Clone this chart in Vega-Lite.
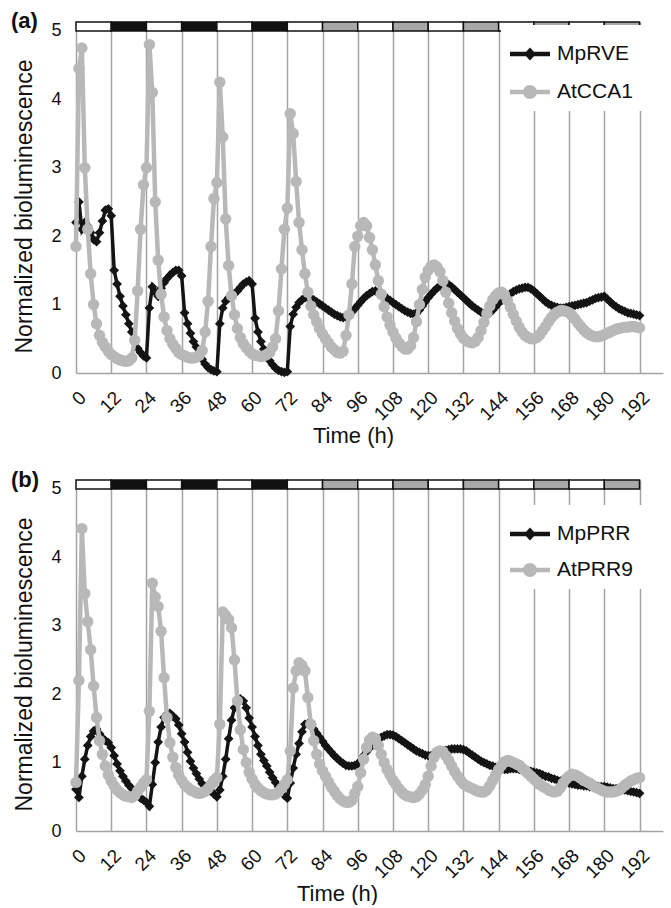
{
"$schema": "https://vega.github.io/schema/vega-lite/v6.json",
"padding": {"left": 11, "top": 10, "right": 3, "bottom": 0},
"spacing": 22,
"config": {
 "font": "Liberation Sans",
 "view": {"stroke": null},
 "axisX": {"grid": true, "gridColor": "#a3a3a3", "gridWidth": 1.5, "ticks": false, "tickSize": 0, "domainColor": "#a3a3a3", "domainWidth": 1.5, "labelAngle": -45, "labelFontSize": 19, "labelColor": "#111111", "labelPadding": 15, "titleFontSize": 22, "titleFontWeight": "normal", "titleColor": "#111111", "titlePadding": 2, "labelOverlap": false, "labelFlush": false},
 "axisY": {"grid": false, "domain": false, "ticks": false, "tickSize": 0, "labelFontSize": 18, "labelColor": "#111111", "labelPadding": 15, "titleFontSize": 23, "titleFontWeight": "normal", "titleColor": "#111111", "titlePadding": 14}
},
"resolve": {"scale": {"x": "independent", "y": "independent", "color": "independent", "fill": "independent"}, "legend": {"color": "independent"}},
"datasets": {
 "bars": [
  {"start":0,"end":12,"phase":"L"},{"start":12,"end":24,"phase":"D"},{"start":24,"end":36,"phase":"L"},{"start":36,"end":48,"phase":"D"},
  {"start":48,"end":60,"phase":"L"},{"start":60,"end":72,"phase":"D"},{"start":72,"end":84,"phase":"L"},{"start":84,"end":96,"phase":"S"},
  {"start":96,"end":108,"phase":"L"},{"start":108,"end":120,"phase":"S"},{"start":120,"end":132,"phase":"L"},{"start":132,"end":144,"phase":"S"},
  {"start":144,"end":156,"phase":"L"},{"start":156,"end":168,"phase":"S"},{"start":168,"end":180,"phase":"L"},{"start":180,"end":192,"phase":"S"}
 ],
 "a": [
{"t":0,"MpRVE":2.2,"AtCCA1":1.85},{"t":1,"MpRVE":2.5,"AtCCA1":4.45},{"t":2,"MpRVE":2.1,"AtCCA1":4.75},{"t":3,"MpRVE":2.2,"AtCCA1":3.0},{"t":4,"MpRVE":2.15,"AtCCA1":2.1},
{"t":5,"MpRVE":2.05,"AtCCA1":1.45},{"t":6,"MpRVE":1.95,"AtCCA1":1.0},{"t":7,"MpRVE":1.92,"AtCCA1":0.72},{"t":8,"MpRVE":2.05,"AtCCA1":0.55},{"t":9,"MpRVE":2.22,"AtCCA1":0.45},
{"t":10,"MpRVE":2.38,"AtCCA1":0.38},{"t":11,"MpRVE":2.4,"AtCCA1":0.32},{"t":12,"MpRVE":2.3,"AtCCA1":0.27},{"t":13,"MpRVE":1.5,"AtCCA1":0.24},{"t":14,"MpRVE":1.3,"AtCCA1":0.21},
{"t":15,"MpRVE":1.12,"AtCCA1":0.19},{"t":16,"MpRVE":0.98,"AtCCA1":0.18},{"t":17,"MpRVE":0.85,"AtCCA1":0.17},{"t":18,"MpRVE":0.72,"AtCCA1":0.18},{"t":19,"MpRVE":0.6,"AtCCA1":0.22},
{"t":20,"MpRVE":0.45,"AtCCA1":0.48},{"t":21,"MpRVE":0.36,"AtCCA1":1.2},{"t":22,"MpRVE":0.3,"AtCCA1":2.1},{"t":23,"MpRVE":0.25,"AtCCA1":2.75},{"t":24,"MpRVE":0.22,"AtCCA1":3.0},
{"t":25,"MpRVE":0.95,"AtCCA1":4.8},{"t":26,"MpRVE":1.26,"AtCCA1":4.1},{"t":27,"MpRVE":1.18,"AtCCA1":2.5},{"t":28,"MpRVE":1.12,"AtCCA1":1.65},{"t":29,"MpRVE":1.24,"AtCCA1":1.15},
{"t":30,"MpRVE":1.32,"AtCCA1":0.82},{"t":31,"MpRVE":1.38,"AtCCA1":0.62},{"t":32,"MpRVE":1.43,"AtCCA1":0.5},{"t":33,"MpRVE":1.47,"AtCCA1":0.42},{"t":34,"MpRVE":1.5,"AtCCA1":0.36},
{"t":35,"MpRVE":1.5,"AtCCA1":0.3},{"t":36,"MpRVE":1.42,"AtCCA1":0.27},{"t":37,"MpRVE":0.88,"AtCCA1":0.25},{"t":38,"MpRVE":0.72,"AtCCA1":0.23},{"t":39,"MpRVE":0.58,"AtCCA1":0.22},
{"t":40,"MpRVE":0.46,"AtCCA1":0.22},{"t":41,"MpRVE":0.38,"AtCCA1":0.23},{"t":42,"MpRVE":0.3,"AtCCA1":0.26},{"t":43,"MpRVE":0.2,"AtCCA1":0.33},{"t":44,"MpRVE":0.13,"AtCCA1":0.6},
{"t":45,"MpRVE":0.08,"AtCCA1":1.05},{"t":46,"MpRVE":0.05,"AtCCA1":1.85},{"t":47,"MpRVE":0.03,"AtCCA1":2.55},{"t":48,"MpRVE":0.02,"AtCCA1":2.78},{"t":49,"MpRVE":0.72,"AtCCA1":4.25},
{"t":50,"MpRVE":0.95,"AtCCA1":3.45},{"t":51,"MpRVE":1.05,"AtCCA1":2.25},{"t":52,"MpRVE":1.1,"AtCCA1":1.57},{"t":53,"MpRVE":1.13,"AtCCA1":1.13},{"t":54,"MpRVE":1.16,"AtCCA1":0.85},
{"t":55,"MpRVE":1.2,"AtCCA1":0.65},{"t":56,"MpRVE":1.25,"AtCCA1":0.52},{"t":57,"MpRVE":1.3,"AtCCA1":0.43},{"t":58,"MpRVE":1.33,"AtCCA1":0.37},{"t":59,"MpRVE":1.35,"AtCCA1":0.32},
{"t":60,"MpRVE":1.3,"AtCCA1":0.28},{"t":61,"MpRVE":0.8,"AtCCA1":0.26},{"t":62,"MpRVE":0.6,"AtCCA1":0.25},{"t":63,"MpRVE":0.46,"AtCCA1":0.24},{"t":64,"MpRVE":0.35,"AtCCA1":0.25},
{"t":65,"MpRVE":0.25,"AtCCA1":0.27},{"t":66,"MpRVE":0.18,"AtCCA1":0.3},{"t":67,"MpRVE":0.12,"AtCCA1":0.38},{"t":68,"MpRVE":0.07,"AtCCA1":0.5},{"t":69,"MpRVE":0.04,"AtCCA1":0.91},
{"t":70,"MpRVE":0.02,"AtCCA1":1.52},{"t":71,"MpRVE":0.01,"AtCCA1":2.1},{"t":72,"MpRVE":0.02,"AtCCA1":2.41},{"t":73,"MpRVE":0.68,"AtCCA1":3.79},{"t":74,"MpRVE":0.86,"AtCCA1":3.5},
{"t":75,"MpRVE":0.96,"AtCCA1":2.8},{"t":76,"MpRVE":1.03,"AtCCA1":2.2},{"t":77,"MpRVE":1.07,"AtCCA1":1.8},{"t":78,"MpRVE":1.1,"AtCCA1":1.45},{"t":79,"MpRVE":1.1,"AtCCA1":1.18},
{"t":80,"MpRVE":1.09,"AtCCA1":0.98},{"t":81,"MpRVE":1.07,"AtCCA1":0.85},{"t":82,"MpRVE":1.04,"AtCCA1":0.75},{"t":83,"MpRVE":1.01,"AtCCA1":0.65},{"t":84,"MpRVE":0.98,"AtCCA1":0.57},
{"t":85,"MpRVE":0.95,"AtCCA1":0.5},{"t":86,"MpRVE":0.92,"AtCCA1":0.44},{"t":87,"MpRVE":0.89,"AtCCA1":0.38},{"t":88,"MpRVE":0.86,"AtCCA1":0.34},{"t":89,"MpRVE":0.84,"AtCCA1":0.3},
{"t":90,"MpRVE":0.82,"AtCCA1":0.29},{"t":91,"MpRVE":0.81,"AtCCA1":0.32},{"t":92,"MpRVE":0.82,"AtCCA1":0.55},{"t":93,"MpRVE":0.85,"AtCCA1":0.85},{"t":94,"MpRVE":0.89,"AtCCA1":1.3},
{"t":95,"MpRVE":0.94,"AtCCA1":1.85},{"t":96,"MpRVE":0.99,"AtCCA1":2.0},{"t":97,"MpRVE":1.04,"AtCCA1":2.15},{"t":98,"MpRVE":1.09,"AtCCA1":2.2},{"t":99,"MpRVE":1.13,"AtCCA1":2.15},
{"t":100,"MpRVE":1.16,"AtCCA1":1.98},{"t":101,"MpRVE":1.19,"AtCCA1":1.8},{"t":102,"MpRVE":1.2,"AtCCA1":1.58},{"t":103,"MpRVE":1.18,"AtCCA1":1.35},{"t":104,"MpRVE":1.15,"AtCCA1":1.15},
{"t":105,"MpRVE":1.12,"AtCCA1":0.97},{"t":106,"MpRVE":1.09,"AtCCA1":0.82},{"t":107,"MpRVE":1.06,"AtCCA1":0.7},{"t":108,"MpRVE":1.03,"AtCCA1":0.6},{"t":109,"MpRVE":1.0,"AtCCA1":0.51},
{"t":110,"MpRVE":0.97,"AtCCA1":0.44},{"t":111,"MpRVE":0.94,"AtCCA1":0.39},{"t":112,"MpRVE":0.91,"AtCCA1":0.35},{"t":113,"MpRVE":0.89,"AtCCA1":0.35},{"t":114,"MpRVE":0.87,"AtCCA1":0.4},
{"t":115,"MpRVE":0.86,"AtCCA1":0.52},{"t":116,"MpRVE":0.87,"AtCCA1":0.75},{"t":117,"MpRVE":0.92,"AtCCA1":1.0},{"t":118,"MpRVE":0.98,"AtCCA1":1.22},{"t":119,"MpRVE":1.04,"AtCCA1":1.4},
{"t":120,"MpRVE":1.1,"AtCCA1":1.5},{"t":121,"MpRVE":1.15,"AtCCA1":1.56},{"t":122,"MpRVE":1.2,"AtCCA1":1.58},{"t":123,"MpRVE":1.24,"AtCCA1":1.55},{"t":124,"MpRVE":1.27,"AtCCA1":1.48},
{"t":125,"MpRVE":1.29,"AtCCA1":1.35},{"t":126,"MpRVE":1.3,"AtCCA1":1.18},{"t":127,"MpRVE":1.29,"AtCCA1":1.02},{"t":128,"MpRVE":1.26,"AtCCA1":0.88},{"t":129,"MpRVE":1.22,"AtCCA1":0.76},
{"t":130,"MpRVE":1.18,"AtCCA1":0.65},{"t":131,"MpRVE":1.14,"AtCCA1":0.57},{"t":132,"MpRVE":1.1,"AtCCA1":0.51},{"t":133,"MpRVE":1.06,"AtCCA1":0.47},{"t":134,"MpRVE":1.02,"AtCCA1":0.45},
{"t":135,"MpRVE":0.98,"AtCCA1":0.44},{"t":136,"MpRVE":0.95,"AtCCA1":0.46},{"t":137,"MpRVE":0.92,"AtCCA1":0.52},{"t":138,"MpRVE":0.89,"AtCCA1":0.62},{"t":139,"MpRVE":0.87,"AtCCA1":0.74},
{"t":140,"MpRVE":0.86,"AtCCA1":0.87},{"t":141,"MpRVE":0.88,"AtCCA1":0.98},{"t":142,"MpRVE":0.92,"AtCCA1":1.07},{"t":143,"MpRVE":0.97,"AtCCA1":1.13},{"t":144,"MpRVE":1.02,"AtCCA1":1.17},
{"t":145,"MpRVE":1.06,"AtCCA1":1.18},{"t":146,"MpRVE":1.1,"AtCCA1":1.14},{"t":147,"MpRVE":1.13,"AtCCA1":1.06},{"t":148,"MpRVE":1.16,"AtCCA1":0.96},{"t":149,"MpRVE":1.19,"AtCCA1":0.86},
{"t":150,"MpRVE":1.21,"AtCCA1":0.76},{"t":151,"MpRVE":1.23,"AtCCA1":0.67},{"t":152,"MpRVE":1.24,"AtCCA1":0.6},{"t":153,"MpRVE":1.25,"AtCCA1":0.55},{"t":154,"MpRVE":1.25,"AtCCA1":0.52},
{"t":155,"MpRVE":1.23,"AtCCA1":0.5},{"t":156,"MpRVE":1.2,"AtCCA1":0.5},{"t":157,"MpRVE":1.16,"AtCCA1":0.52},{"t":158,"MpRVE":1.12,"AtCCA1":0.56},{"t":159,"MpRVE":1.08,"AtCCA1":0.62},
{"t":160,"MpRVE":1.04,"AtCCA1":0.68},{"t":161,"MpRVE":1.01,"AtCCA1":0.75},{"t":162,"MpRVE":0.99,"AtCCA1":0.81},{"t":163,"MpRVE":0.97,"AtCCA1":0.86},{"t":164,"MpRVE":0.96,"AtCCA1":0.89},
{"t":165,"MpRVE":0.95,"AtCCA1":0.91},{"t":166,"MpRVE":0.95,"AtCCA1":0.91},{"t":167,"MpRVE":0.96,"AtCCA1":0.9},{"t":168,"MpRVE":0.97,"AtCCA1":0.88},{"t":169,"MpRVE":0.98,"AtCCA1":0.84},
{"t":170,"MpRVE":0.99,"AtCCA1":0.79},{"t":171,"MpRVE":1.0,"AtCCA1":0.73},{"t":172,"MpRVE":1.01,"AtCCA1":0.68},{"t":173,"MpRVE":1.02,"AtCCA1":0.63},{"t":174,"MpRVE":1.03,"AtCCA1":0.59},
{"t":175,"MpRVE":1.05,"AtCCA1":0.56},{"t":176,"MpRVE":1.07,"AtCCA1":0.54},{"t":177,"MpRVE":1.09,"AtCCA1":0.53},{"t":178,"MpRVE":1.1,"AtCCA1":0.53},{"t":179,"MpRVE":1.11,"AtCCA1":0.54},
{"t":180,"MpRVE":1.12,"AtCCA1":0.56},{"t":181,"MpRVE":1.08,"AtCCA1":0.58},{"t":182,"MpRVE":1.04,"AtCCA1":0.6},{"t":183,"MpRVE":1.0,"AtCCA1":0.62},{"t":184,"MpRVE":0.97,"AtCCA1":0.64},
{"t":185,"MpRVE":0.94,"AtCCA1":0.65},{"t":186,"MpRVE":0.92,"AtCCA1":0.66},{"t":187,"MpRVE":0.9,"AtCCA1":0.67},{"t":188,"MpRVE":0.88,"AtCCA1":0.67},{"t":189,"MpRVE":0.87,"AtCCA1":0.68},
{"t":190,"MpRVE":0.86,"AtCCA1":0.68},{"t":191,"MpRVE":0.85,"AtCCA1":0.67},{"t":192,"MpRVE":0.84,"AtCCA1":0.66}
 ],
 "b": [
{"t":0,"MpPRR":0.61,"AtPRR9":0.71},{"t":1,"MpPRR":0.49,"AtPRR9":2.2},{"t":2,"MpPRR":0.8,"AtPRR9":4.42},{"t":3,"MpPRR":1.05,"AtPRR9":3.47},{"t":4,"MpPRR":1.25,"AtPRR9":3.06},
{"t":5,"MpPRR":1.38,"AtPRR9":2.65},{"t":6,"MpPRR":1.46,"AtPRR9":2.12},{"t":7,"MpPRR":1.49,"AtPRR9":1.66},{"t":8,"MpPRR":1.42,"AtPRR9":1.32},{"t":9,"MpPRR":1.36,"AtPRR9":1.12},
{"t":10,"MpPRR":1.32,"AtPRR9":0.95},{"t":11,"MpPRR":1.29,"AtPRR9":0.82},{"t":12,"MpPRR":1.22,"AtPRR9":0.73},{"t":13,"MpPRR":1.1,"AtPRR9":0.66},{"t":14,"MpPRR":0.98,"AtPRR9":0.6},
{"t":15,"MpPRR":0.88,"AtPRR9":0.56},{"t":16,"MpPRR":0.8,"AtPRR9":0.53},{"t":17,"MpPRR":0.73,"AtPRR9":0.51},{"t":18,"MpPRR":0.67,"AtPRR9":0.5},{"t":19,"MpPRR":0.62,"AtPRR9":0.49},
{"t":20,"MpPRR":0.57,"AtPRR9":0.52},{"t":21,"MpPRR":0.52,"AtPRR9":0.58},{"t":22,"MpPRR":0.48,"AtPRR9":0.64},{"t":23,"MpPRR":0.45,"AtPRR9":0.7},{"t":24,"MpPRR":0.42,"AtPRR9":0.75},
{"t":25,"MpPRR":0.36,"AtPRR9":1.75},{"t":26,"MpPRR":0.68,"AtPRR9":3.62},{"t":27,"MpPRR":1.0,"AtPRR9":3.42},{"t":28,"MpPRR":1.3,"AtPRR9":3.28},{"t":29,"MpPRR":1.52,"AtPRR9":2.92},
{"t":30,"MpPRR":1.66,"AtPRR9":2.24},{"t":31,"MpPRR":1.71,"AtPRR9":1.66},{"t":32,"MpPRR":1.72,"AtPRR9":1.29},{"t":33,"MpPRR":1.68,"AtPRR9":1.08},{"t":34,"MpPRR":1.64,"AtPRR9":0.93},
{"t":35,"MpPRR":1.55,"AtPRR9":0.82},{"t":36,"MpPRR":1.42,"AtPRR9":0.74},{"t":37,"MpPRR":1.3,"AtPRR9":0.68},{"t":38,"MpPRR":1.15,"AtPRR9":0.64},{"t":39,"MpPRR":1.02,"AtPRR9":0.6},
{"t":40,"MpPRR":0.92,"AtPRR9":0.58},{"t":41,"MpPRR":0.84,"AtPRR9":0.56},{"t":42,"MpPRR":0.76,"AtPRR9":0.55},{"t":43,"MpPRR":0.69,"AtPRR9":0.56},{"t":44,"MpPRR":0.65,"AtPRR9":0.58},
{"t":45,"MpPRR":0.62,"AtPRR9":0.62},{"t":46,"MpPRR":0.58,"AtPRR9":0.68},{"t":47,"MpPRR":0.54,"AtPRR9":0.74},{"t":48,"MpPRR":0.5,"AtPRR9":0.78},{"t":49,"MpPRR":0.6,"AtPRR9":1.56},
{"t":50,"MpPRR":0.8,"AtPRR9":3.2},{"t":51,"MpPRR":1.05,"AtPRR9":3.15},{"t":52,"MpPRR":1.35,"AtPRR9":3.09},{"t":53,"MpPRR":1.62,"AtPRR9":2.97},{"t":54,"MpPRR":1.8,"AtPRR9":2.5},
{"t":55,"MpPRR":1.9,"AtPRR9":1.9},{"t":56,"MpPRR":1.93,"AtPRR9":1.48},{"t":57,"MpPRR":1.9,"AtPRR9":1.19},{"t":58,"MpPRR":1.8,"AtPRR9":1.0},{"t":59,"MpPRR":1.65,"AtPRR9":0.86},
{"t":60,"MpPRR":1.52,"AtPRR9":0.76},{"t":61,"MpPRR":1.38,"AtPRR9":0.68},{"t":62,"MpPRR":1.25,"AtPRR9":0.63},{"t":63,"MpPRR":1.12,"AtPRR9":0.59},{"t":64,"MpPRR":1.03,"AtPRR9":0.56},
{"t":65,"MpPRR":0.95,"AtPRR9":0.54},{"t":66,"MpPRR":0.86,"AtPRR9":0.53},{"t":67,"MpPRR":0.78,"AtPRR9":0.53},{"t":68,"MpPRR":0.71,"AtPRR9":0.54},{"t":69,"MpPRR":0.65,"AtPRR9":0.57},
{"t":70,"MpPRR":0.58,"AtPRR9":0.62},{"t":71,"MpPRR":0.52,"AtPRR9":0.68},{"t":72,"MpPRR":0.48,"AtPRR9":0.75},{"t":73,"MpPRR":0.7,"AtPRR9":1.17},{"t":74,"MpPRR":0.92,"AtPRR9":2.09},
{"t":75,"MpPRR":1.12,"AtPRR9":2.34},{"t":76,"MpPRR":1.28,"AtPRR9":2.46},{"t":77,"MpPRR":1.45,"AtPRR9":2.42},{"t":78,"MpPRR":1.56,"AtPRR9":2.34},{"t":79,"MpPRR":1.57,"AtPRR9":1.95},
{"t":80,"MpPRR":1.54,"AtPRR9":1.56},{"t":81,"MpPRR":1.49,"AtPRR9":1.32},{"t":82,"MpPRR":1.43,"AtPRR9":1.12},{"t":83,"MpPRR":1.37,"AtPRR9":0.98},{"t":84,"MpPRR":1.31,"AtPRR9":0.88},
{"t":85,"MpPRR":1.25,"AtPRR9":0.8},{"t":86,"MpPRR":1.2,"AtPRR9":0.72},{"t":87,"MpPRR":1.15,"AtPRR9":0.64},{"t":88,"MpPRR":1.1,"AtPRR9":0.58},{"t":89,"MpPRR":1.06,"AtPRR9":0.52},
{"t":90,"MpPRR":1.02,"AtPRR9":0.47},{"t":91,"MpPRR":0.99,"AtPRR9":0.44},{"t":92,"MpPRR":0.96,"AtPRR9":0.42},{"t":93,"MpPRR":0.95,"AtPRR9":0.42},{"t":94,"MpPRR":0.95,"AtPRR9":0.45},
{"t":95,"MpPRR":0.96,"AtPRR9":0.55},{"t":96,"MpPRR":0.98,"AtPRR9":0.65},{"t":97,"MpPRR":1.03,"AtPRR9":0.85},{"t":98,"MpPRR":1.1,"AtPRR9":1.05},{"t":99,"MpPRR":1.16,"AtPRR9":1.22},
{"t":100,"MpPRR":1.21,"AtPRR9":1.33},{"t":101,"MpPRR":1.26,"AtPRR9":1.37},{"t":102,"MpPRR":1.3,"AtPRR9":1.35},{"t":103,"MpPRR":1.34,"AtPRR9":1.25},{"t":104,"MpPRR":1.37,"AtPRR9":1.12},
{"t":105,"MpPRR":1.39,"AtPRR9":1.0},{"t":106,"MpPRR":1.41,"AtPRR9":0.9},{"t":107,"MpPRR":1.41,"AtPRR9":0.82},{"t":108,"MpPRR":1.4,"AtPRR9":0.74},{"t":109,"MpPRR":1.38,"AtPRR9":0.68},
{"t":110,"MpPRR":1.35,"AtPRR9":0.62},{"t":111,"MpPRR":1.32,"AtPRR9":0.57},{"t":112,"MpPRR":1.29,"AtPRR9":0.53},{"t":113,"MpPRR":1.26,"AtPRR9":0.51},{"t":114,"MpPRR":1.23,"AtPRR9":0.5},
{"t":115,"MpPRR":1.2,"AtPRR9":0.49},{"t":116,"MpPRR":1.17,"AtPRR9":0.5},{"t":117,"MpPRR":1.15,"AtPRR9":0.54},{"t":118,"MpPRR":1.13,"AtPRR9":0.6},{"t":119,"MpPRR":1.11,"AtPRR9":0.68},
{"t":120,"MpPRR":1.1,"AtPRR9":0.8},{"t":121,"MpPRR":1.1,"AtPRR9":0.95},{"t":122,"MpPRR":1.11,"AtPRR9":1.08},{"t":123,"MpPRR":1.13,"AtPRR9":1.15},{"t":124,"MpPRR":1.15,"AtPRR9":1.17},
{"t":125,"MpPRR":1.17,"AtPRR9":1.16},{"t":126,"MpPRR":1.18,"AtPRR9":1.1},{"t":127,"MpPRR":1.19,"AtPRR9":1.03},{"t":128,"MpPRR":1.2,"AtPRR9":0.95},{"t":129,"MpPRR":1.2,"AtPRR9":0.87},
{"t":130,"MpPRR":1.2,"AtPRR9":0.8},{"t":131,"MpPRR":1.2,"AtPRR9":0.74},{"t":132,"MpPRR":1.19,"AtPRR9":0.69},{"t":133,"MpPRR":1.17,"AtPRR9":0.66},{"t":134,"MpPRR":1.14,"AtPRR9":0.64},
{"t":135,"MpPRR":1.11,"AtPRR9":0.62},{"t":136,"MpPRR":1.08,"AtPRR9":0.6},{"t":137,"MpPRR":1.05,"AtPRR9":0.58},{"t":138,"MpPRR":1.02,"AtPRR9":0.57},{"t":139,"MpPRR":1.0,"AtPRR9":0.57},
{"t":140,"MpPRR":0.98,"AtPRR9":0.6},{"t":141,"MpPRR":0.96,"AtPRR9":0.66},{"t":142,"MpPRR":0.95,"AtPRR9":0.74},{"t":143,"MpPRR":0.93,"AtPRR9":0.82},{"t":144,"MpPRR":0.92,"AtPRR9":0.9},
{"t":145,"MpPRR":0.91,"AtPRR9":0.96},{"t":146,"MpPRR":0.9,"AtPRR9":1.01},{"t":147,"MpPRR":0.9,"AtPRR9":1.03},{"t":148,"MpPRR":0.91,"AtPRR9":1.02},{"t":149,"MpPRR":0.91,"AtPRR9":1.0},
{"t":150,"MpPRR":0.91,"AtPRR9":0.98},{"t":151,"MpPRR":0.9,"AtPRR9":0.96},{"t":152,"MpPRR":0.9,"AtPRR9":0.92},{"t":153,"MpPRR":0.89,"AtPRR9":0.88},{"t":154,"MpPRR":0.88,"AtPRR9":0.84},
{"t":155,"MpPRR":0.87,"AtPRR9":0.8},{"t":156,"MpPRR":0.86,"AtPRR9":0.76},{"t":157,"MpPRR":0.85,"AtPRR9":0.72},{"t":158,"MpPRR":0.84,"AtPRR9":0.68},{"t":159,"MpPRR":0.82,"AtPRR9":0.65},
{"t":160,"MpPRR":0.8,"AtPRR9":0.63},{"t":161,"MpPRR":0.79,"AtPRR9":0.6},{"t":162,"MpPRR":0.77,"AtPRR9":0.58},{"t":163,"MpPRR":0.76,"AtPRR9":0.57},{"t":164,"MpPRR":0.74,"AtPRR9":0.58},
{"t":165,"MpPRR":0.73,"AtPRR9":0.63},{"t":166,"MpPRR":0.72,"AtPRR9":0.7},{"t":167,"MpPRR":0.71,"AtPRR9":0.76},{"t":168,"MpPRR":0.7,"AtPRR9":0.8},{"t":169,"MpPRR":0.69,"AtPRR9":0.83},
{"t":170,"MpPRR":0.68,"AtPRR9":0.82},{"t":171,"MpPRR":0.67,"AtPRR9":0.8},{"t":172,"MpPRR":0.67,"AtPRR9":0.77},{"t":173,"MpPRR":0.66,"AtPRR9":0.74},{"t":174,"MpPRR":0.66,"AtPRR9":0.72},
{"t":175,"MpPRR":0.65,"AtPRR9":0.7},{"t":176,"MpPRR":0.65,"AtPRR9":0.67},{"t":177,"MpPRR":0.65,"AtPRR9":0.64},{"t":178,"MpPRR":0.65,"AtPRR9":0.62},{"t":179,"MpPRR":0.65,"AtPRR9":0.6},
{"t":180,"MpPRR":0.65,"AtPRR9":0.58},{"t":181,"MpPRR":0.64,"AtPRR9":0.57},{"t":182,"MpPRR":0.63,"AtPRR9":0.57},{"t":183,"MpPRR":0.62,"AtPRR9":0.57},{"t":184,"MpPRR":0.62,"AtPRR9":0.58},
{"t":185,"MpPRR":0.61,"AtPRR9":0.6},{"t":186,"MpPRR":0.6,"AtPRR9":0.63},{"t":187,"MpPRR":0.6,"AtPRR9":0.67},{"t":188,"MpPRR":0.59,"AtPRR9":0.7},{"t":189,"MpPRR":0.58,"AtPRR9":0.73},
{"t":190,"MpPRR":0.57,"AtPRR9":0.75},{"t":191,"MpPRR":0.56,"AtPRR9":0.77},{"t":192,"MpPRR":0.55,"AtPRR9":0.78}
 ]
},
"vconcat": [
 {
  "width": 587, "height": 351,
  "title": {"text": "(a)", "anchor": "start", "frame": "group", "fontSize": 22, "fontWeight": "bold", "color": "#111111", "baseline": "middle", "offset": -2, "dx": -65, "dy": 20},
  "layer": [
   {"data": {"name": "bars"}, "mark": {"type": "rect", "stroke": "#111111", "strokeWidth": 1.5},
    "encoding": {
     "x": {"field": "start", "type": "quantitative", "title": "Time (h)", "scale": {"domain": [0, 200], "nice": false, "zero": false}, "axis": {"values": [0,12,24,36,48,60,72,84,96,108,120,132,144,156,168,180,192], "titleX": 277}},
     "x2": {"field": "end"},
     "y": {"datum": 5, "type": "quantitative", "title": "Normalized bioluminescence", "scale": {"domain": [0, 5.13], "nice": false}, "axis": {"values": [0,1,2,3,4,5], "format": "d", "titleY": 184}},
     "y2": {"datum": 5.13},
     "fill": {"field": "phase", "type": "nominal", "scale": {"domain": ["L", "D", "S"], "range": ["#ffffff", "#111111", "#a8a8a8"]}, "legend": null}
    }},
   {"data": {"name": "a"},
    "transform": [{"fold": ["MpRVE", "AtCCA1"], "as": ["series", "value"]}],
    "encoding": {
     "x": {"field": "t", "type": "quantitative", "title": "Time (h)", "scale": {"domain": [0, 200], "nice": false, "zero": false}, "axis": {"values": [0,12,24,36,48,60,72,84,96,108,120,132,144,156,168,180,192], "titleX": 277}},
     "y": {"field": "value", "type": "quantitative", "title": "Normalized bioluminescence", "scale": {"domain": [0, 5.13], "nice": false}, "axis": {"values": [0,1,2,3,4,5], "format": "d", "titleY": 184}},
     "color": {"field": "series", "type": "nominal", "scale": {"domain": ["MpRVE", "AtCCA1"], "range": ["#141414", "#b8b8b8"]},
      "legend": {"orient": "none", "legendX": 425, "legendY": 3, "title": null, "fillColor": "#ffffff", "padding": 9, "symbolSize": 1600, "symbolStrokeWidth": 0, "labelFontSize": 21, "labelColor": "#111111", "labelOffset": 7, "rowPadding": 8,
       "encode": {"symbols": {"update": {
        "shape": {"signal": "datum.value === 'MpRVE' ? 'M-1,-0.11H1V0.11H-1Z M0,-0.33L0.3,0L0,0.33L-0.3,0Z' : 'M-1,-0.11H1V0.11H-1Z M0.35,0A0.35,0.35,0,1,1,-0.35,0A0.35,0.35,0,1,1,0.35,0Z'"},
        "fill": {"signal": "datum.value === 'MpRVE' ? '#141414' : '#b8b8b8'"},
        "opacity": {"value": 1}, "fillOpacity": {"value": 1}, "strokeWidth": {"value": 0}}}}}}
    },
    "layer": [
     {"transform": [{"filter": "datum.series === 'MpRVE'"}], "mark": {"type": "line", "strokeWidth": 3.5}},
     {"transform": [{"filter": "datum.series === 'MpRVE'"}], "mark": {"type": "point", "shape": "diamond", "filled": true, "size": 95, "opacity": 1}},
     {"transform": [{"filter": "datum.series === 'AtCCA1'"}], "mark": {"type": "line", "strokeWidth": 4.5}},
     {"transform": [{"filter": "datum.series === 'AtCCA1'"}], "mark": {"type": "point", "shape": "circle", "filled": true, "size": 130, "opacity": 1}}
    ]}
  ]
 },
 {
  "width": 587, "height": 351,
  "title": {"text": "(b)", "anchor": "start", "frame": "group", "fontSize": 22, "fontWeight": "bold", "color": "#111111", "baseline": "middle", "offset": -4, "dx": -65, "dy": 19},
  "layer": [
   {"data": {"name": "bars"}, "mark": {"type": "rect", "stroke": "#111111", "strokeWidth": 1.5},
    "encoding": {
     "x": {"field": "start", "type": "quantitative", "title": "Time (h)", "scale": {"domain": [0, 200], "nice": false, "zero": false}, "axis": {"values": [0,12,24,36,48,60,72,84,96,108,120,132,144,156,168,180,192], "titleX": 261}},
     "x2": {"field": "end"},
     "y": {"datum": 5, "type": "quantitative", "title": "Normalized bioluminescence", "scale": {"domain": [0, 5.13], "nice": false}, "axis": {"values": [0,1,2,3,4,5], "format": "d", "titleY": 184}},
     "y2": {"datum": 5.13},
     "fill": {"field": "phase", "type": "nominal", "scale": {"domain": ["L", "D", "S"], "range": ["#ffffff", "#111111", "#a8a8a8"]}, "legend": null}
    }},
   {"data": {"name": "b"},
    "transform": [{"fold": ["MpPRR", "AtPRR9"], "as": ["series", "value"]}],
    "encoding": {
     "x": {"field": "t", "type": "quantitative", "title": "Time (h)", "scale": {"domain": [0, 200], "nice": false, "zero": false}, "axis": {"values": [0,12,24,36,48,60,72,84,96,108,120,132,144,156,168,180,192], "titleX": 261}},
     "y": {"field": "value", "type": "quantitative", "title": "Normalized bioluminescence", "scale": {"domain": [0, 5.13], "nice": false}, "axis": {"values": [0,1,2,3,4,5], "format": "d", "titleY": 184}},
     "color": {"field": "series", "type": "nominal", "scale": {"domain": ["MpPRR", "AtPRR9"], "range": ["#141414", "#b8b8b8"]},
      "legend": {"orient": "none", "legendX": 425, "legendY": 25, "title": null, "fillColor": "#ffffff", "padding": 9, "symbolSize": 1600, "symbolStrokeWidth": 0, "labelFontSize": 21, "labelColor": "#111111", "labelOffset": 7, "rowPadding": 6,
       "encode": {"symbols": {"update": {
        "shape": {"signal": "datum.value === 'MpPRR' ? 'M-1,-0.11H1V0.11H-1Z M0,-0.33L0.3,0L0,0.33L-0.3,0Z' : 'M-1,-0.11H1V0.11H-1Z M0.35,0A0.35,0.35,0,1,1,-0.35,0A0.35,0.35,0,1,1,0.35,0Z'"},
        "fill": {"signal": "datum.value === 'MpPRR' ? '#141414' : '#b8b8b8'"},
        "opacity": {"value": 1}, "fillOpacity": {"value": 1}, "strokeWidth": {"value": 0}}}}}}
    },
    "layer": [
     {"transform": [{"filter": "datum.series === 'MpPRR'"}], "mark": {"type": "line", "strokeWidth": 3.5}},
     {"transform": [{"filter": "datum.series === 'MpPRR'"}], "mark": {"type": "point", "shape": "diamond", "filled": true, "size": 95, "opacity": 1}},
     {"transform": [{"filter": "datum.series === 'AtPRR9'"}], "mark": {"type": "line", "strokeWidth": 4.5}},
     {"transform": [{"filter": "datum.series === 'AtPRR9'"}], "mark": {"type": "point", "shape": "circle", "filled": true, "size": 130, "opacity": 1}}
    ]}
  ]
 }
]
}
